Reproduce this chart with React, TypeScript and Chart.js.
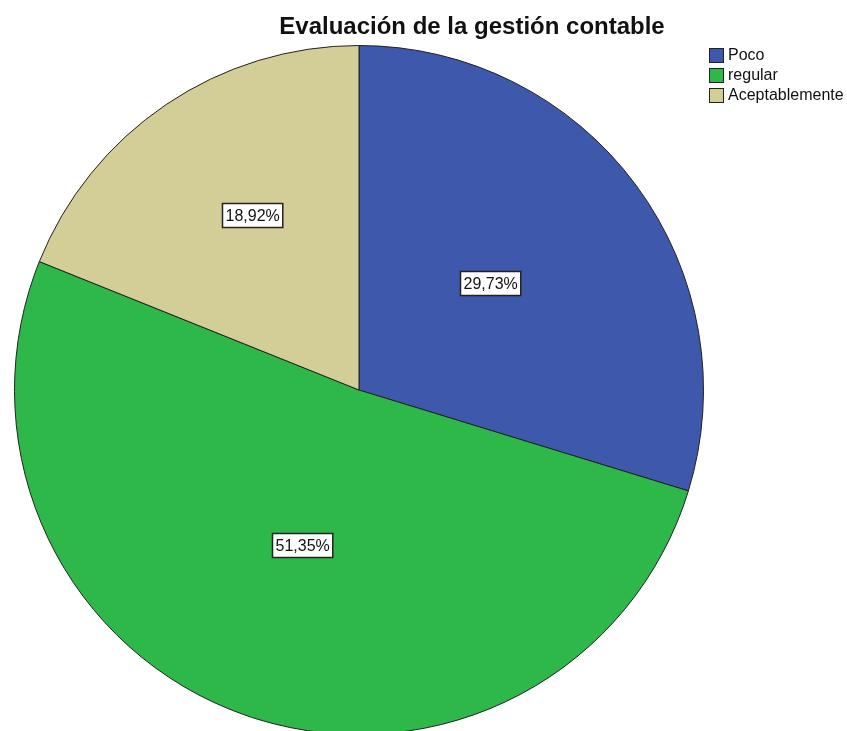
import React, { useEffect, useRef } from "react";
import { Chart, registerables } from "chart.js";

Chart.register(...registerables);

const categories = ["Poco", "regular", "Aceptablemente"];
const percentages = [29.73, 51.35, 18.92];
const colors = ["#3E58AC", "#2EB84A", "#D3CE97"];
const chartTitle = "Evaluación de la gestión contable";

const labelRadiusFractions = [0.49, 0.48, 0.595];
const labelAngleOffsetsDeg = [-2.7, 0.7, 2.6];

const overlayPlugin = {
  id: "overlay",
  afterDraw(chart: any) {
    const ctx = chart.ctx as CanvasRenderingContext2D;
    ctx.save();
    // Title
    ctx.font = "bold 24px 'Liberation Sans', Arial, sans-serif";
    ctx.fillStyle = "#111";
    ctx.textAlign = "center";
    ctx.textBaseline = "alphabetic";
    ctx.fillText(chartTitle, 472, 34);

    // Legend
    ctx.font = "16px 'Liberation Sans', Arial, sans-serif";
    ctx.textAlign = "left";
    ctx.textBaseline = "middle";
    categories.forEach((c, i) => {
      const y = 55 + i * 20;
      ctx.fillStyle = colors[i];
      ctx.fillRect(709, y - 7, 15, 15);
      ctx.strokeStyle = "#222";
      ctx.lineWidth = 1;
      ctx.strokeRect(709.5, y - 6.5, 14, 14);
      ctx.fillStyle = "#111";
      ctx.fillText(c, 728, y + 1);
    });

    // Percentage labels
    const meta = chart.getDatasetMeta(0);
    meta.data.forEach((arc: any, i: number) => {
      const p = arc.getProps(["x", "y", "startAngle", "endAngle", "outerRadius"], true);
      const mid = (p.startAngle + p.endAngle) / 2 + (labelAngleOffsetsDeg[i] * Math.PI) / 180;
      const r = p.outerRadius * labelRadiusFractions[i];
      const cx = p.x + Math.cos(mid) * r;
      const cy = p.y + Math.sin(mid) * r;
      const text = percentages[i].toFixed(2).replace(".", ",") + "%";
      ctx.font = "16px 'Liberation Sans', Arial, sans-serif";
      const w = ctx.measureText(text).width + 6;
      const h = 24;
      const bx = Math.round(cx - w / 2) + 0.5;
      const by = Math.round(cy - h / 2) + 0.5;
      ctx.fillStyle = "#fff";
      ctx.fillRect(bx, by, w, h);
      ctx.strokeStyle = "#222";
      ctx.lineWidth = 1.5;
      ctx.strokeRect(bx, by, w, h);
      ctx.fillStyle = "#111";
      ctx.textAlign = "center";
      ctx.textBaseline = "middle";
      ctx.fillText(text, bx + w / 2, by + h / 2 + 1);
    });
    ctx.restore();
  },
};

export default function App() {
  const ref = useRef<HTMLCanvasElement>(null);
  useEffect(() => {
    if (!ref.current) return;
    const chart = new Chart(ref.current, {
      type: "pie",
      data: {
        labels: categories,
        datasets: [
          {
            data: percentages,
            backgroundColor: colors,
            borderColor: "#222",
            borderWidth: 1,
          },
        ],
      },
      options: {
        animation: false,
        responsive: false,
        maintainAspectRatio: false,
        layout: { padding: { left: 14, top: 45, right: 143, bottom: 5 } },
        plugins: {
          legend: { display: false },
          tooltip: { enabled: false },
          title: { display: false },
        },
      },
      plugins: [overlayPlugin],
    });
    return () => chart.destroy();
  }, []);
  return (
    <div style={{ position: "fixed", top: 0, left: 0, width: 847, height: 740, background: "#fff" }}>
      <canvas ref={ref} width={847} height={740} style={{ display: "block" }} />
    </div>
  );
}
